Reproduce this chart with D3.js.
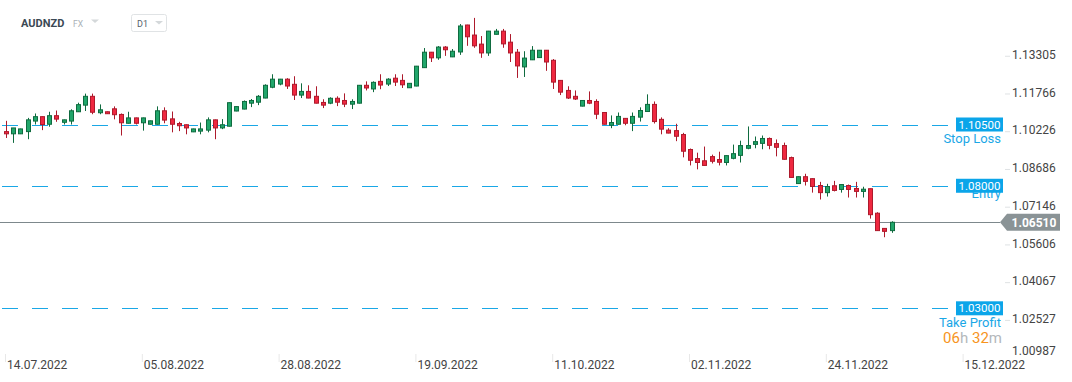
<!DOCTYPE html>
<html><head><meta charset="utf-8">
<script src="https://cdn.jsdelivr.net/npm/d3@7"></script>
<style>
body{margin:0;background:#fff;}
svg{display:block;font-family:Roboto,"Noto Sans",sans-serif;}
</style></head>
<body><svg id="c" width="1072" height="382"></svg>
<script>
// ---- data ----
const symbol = "AUDNZD";
const market = "FX";
const interval = "D1";
const tickIdx = [0,19,38,57,76,95,114,133];
const tickLabels = ["14.07.2022","05.08.2022","28.08.2022","19.09.2022","11.10.2022","02.11.2022","24.11.2022","15.12.2022"];
const priceTicks = [1.13305,1.11766,1.10226,1.08686,1.07146,1.05606,1.04067,1.02527,1.00987];
const levelValues = [1.105, 1.08, 1.03];
const levelNames = ["Stop Loss","Entry","Take Profit"];
const currentPrice = 1.0651;
const countdown = [["06","h"],["32","m"]];

const open = [1.1021,1.1012,1.1012,1.1021,1.1064,1.1082,1.1051,1.1086,1.1059,1.1064,
1.1102,1.1129,1.1165,1.1098,1.1102,1.1114,1.1091,1.1055,1.1077,1.1057,
1.1051,1.1051,1.1106,1.1073,1.1054,1.1049,1.1020,1.1023,1.1027,1.1069,
1.1036,1.1043,1.1105,1.1113,1.1137,1.1141,1.1158,1.1202,1.1215,1.1235,
1.1214,1.1170,1.1185,1.1165,1.1140,1.1137,1.1157,1.1148,1.1133,1.1137,
1.1210,1.1195,1.1226,1.1215,1.1239,1.1230,1.1200,1.1207,1.1282,1.1345,
1.1322,1.1366,1.1326,1.1346,1.1456,1.1415,1.1378,1.1342,1.1418,1.1431,
1.1386,1.1345,1.1285,1.1314,1.1323,1.1353,1.1312,1.1230,1.1189,1.1165,
1.1125,1.1148,1.1144,1.1099,1.1047,1.1051,1.1075,1.1055,1.1080,1.1103,
1.1132,1.1071,1.1027,1.1025,1.1009,1.0948,1.0911,1.0902,1.0919,1.0907,
1.0895,1.0912,1.0924,1.0953,1.0969,1.0973,1.0993,1.0972,1.0964,1.0915,
1.0809,1.0837,1.0829,1.0801,1.0772,1.0800,1.0785,1.0801,1.0789,1.0777,
1.0788,1.0688,1.0626,1.0617];
const close = [1.1012,1.1036,1.1032,1.1069,1.1082,1.1050,1.1086,1.1072,1.1069,1.1106,
1.1131,1.1165,1.1100,1.1110,1.1094,1.1090,1.1057,1.1077,1.1055,1.1077,
1.1065,1.1106,1.1068,1.1051,1.1045,1.1036,1.1032,1.1032,1.1069,1.1036,
1.1049,1.1139,1.1123,1.1144,1.1148,1.1165,1.1210,1.1235,1.1235,1.1207,
1.1170,1.1185,1.1158,1.1137,1.1129,1.1157,1.1141,1.1133,1.1144,1.1210,
1.1199,1.1222,1.1211,1.1235,1.1223,1.1212,1.1218,1.1288,1.1345,1.1322,
1.1366,1.1355,1.1349,1.1452,1.1408,1.1371,1.1342,1.1431,1.1431,1.1379,
1.1342,1.1289,1.1321,1.1353,1.1353,1.1305,1.1223,1.1182,1.1158,1.1154,
1.1148,1.1137,1.1092,1.1051,1.1058,1.1083,1.1055,1.1083,1.1107,1.1132,
1.1062,1.1031,1.1015,1.1002,1.0941,1.0904,1.0895,1.0883,1.0900,1.0896,
1.0923,1.0931,1.0964,1.0964,1.0980,1.0993,1.0965,1.0957,1.0908,1.0834,
1.0837,1.0818,1.0797,1.0772,1.0797,1.0781,1.0805,1.0785,1.0777,1.0786,
1.0682,1.0617,1.0614,1.0651];
const high = [1.1065,1.1036,1.1033,1.1077,1.1095,1.1083,1.1102,1.1107,1.1070,1.1112,
1.1139,1.1176,1.1176,1.1132,1.1103,1.1124,1.1095,1.1102,1.1078,1.1078,
1.1066,1.1124,1.1120,1.1103,1.1061,1.1050,1.1033,1.1058,1.1079,1.1070,
1.1072,1.1140,1.1124,1.1148,1.1154,1.1170,1.1214,1.1255,1.1236,1.1239,
1.1247,1.1218,1.1210,1.1206,1.1153,1.1161,1.1165,1.1177,1.1153,1.1211,
1.1226,1.1226,1.1255,1.1239,1.1255,1.1255,1.1219,1.1289,1.1362,1.1346,
1.1370,1.1370,1.1358,1.1460,1.1457,1.1485,1.1411,1.1432,1.1440,1.1440,
1.1419,1.1358,1.1349,1.1370,1.1354,1.1354,1.1317,1.1231,1.1206,1.1189,
1.1149,1.1185,1.1153,1.1100,1.1087,1.1099,1.1076,1.1099,1.1120,1.1173,
1.1144,1.1079,1.1035,1.1053,1.1016,1.0952,1.0935,1.0960,1.0927,1.0939,
1.0924,1.0968,1.0984,1.1042,1.1001,1.1005,1.0997,1.0989,1.0976,1.0919,
1.0838,1.0849,1.0830,1.0816,1.0808,1.0820,1.0806,1.0805,1.0816,1.0796,
1.0789,1.0692,1.0627,1.0655];
const low = [1.0995,1.0975,1.1011,1.0990,1.1050,1.1027,1.1041,1.1061,1.1050,1.1050,
1.1101,1.1105,1.1092,1.1092,1.1093,1.1071,1.1005,1.1054,1.1050,1.1025,
1.1050,1.1050,1.1055,1.1018,1.1023,1.1010,1.1019,1.1010,1.1018,1.0990,
1.1031,1.1042,1.1104,1.1112,1.1121,1.1129,1.1157,1.1198,1.1210,1.1195,
1.1150,1.1158,1.1157,1.1136,1.1117,1.1133,1.1125,1.1121,1.1113,1.1136,
1.1189,1.1182,1.1194,1.1207,1.1207,1.1199,1.1199,1.1206,1.1281,1.1305,
1.1314,1.1330,1.1325,1.1334,1.1371,1.1363,1.1322,1.1330,1.1417,1.1363,
1.1305,1.1240,1.1244,1.1313,1.1322,1.1269,1.1195,1.1170,1.1154,1.1150,
1.1124,1.1133,1.1072,1.1050,1.1035,1.1050,1.1047,1.1023,1.1062,1.1102,
1.1054,1.1010,1.1014,1.0982,1.0916,1.0883,1.0867,1.0882,1.0891,1.0883,
1.0883,1.0908,1.0895,1.0949,1.0953,1.0949,1.0949,1.0920,1.0907,1.0833,
1.0808,1.0801,1.0772,1.0744,1.0756,1.0777,1.0772,1.0752,1.0752,1.0752,
1.0666,1.0616,1.0590,1.0608];

// ---- chart ----
const svg = d3.select('#c');
const x = d3.scaleLinear().domain([0,123]).range([6,891.6]);
const y = d3.scaleLinear().domain([1.105,1.03]).range([124.5,308.3]);
const crisp = v => Math.round(v) + 0.5;

// header
const hdr = svg.append('g');
hdr.append('text').attr('x',21).attr('y',26.5).attr('font-size',11).attr('font-weight',700).attr('fill','#3b4954').text(symbol);
hdr.append('text').attr('x',73).attr('y',26.5).attr('font-size',8.5).attr('fill','#a9b1b6').text(market);
hdr.append('path').attr('d','M91,19.5 L99,19.5 L95,23 Z').attr('fill','#d4d8da');
hdr.append('rect').attr('x',131.5).attr('y',14.5).attr('width',35).attr('height',17).attr('rx',2).attr('fill','#fff').attr('stroke','#e0e3e5');
hdr.append('text').attr('x',137).attr('y',26.5).attr('font-size',9).attr('fill','#56626a').text(interval);
hdr.append('path').attr('d','M155,21 L163,21 L159,24.5 Z').attr('fill','#d4d8da');

// level dashed lines
const lv = svg.append('g');
levelValues.forEach(v => {
  lv.append('line').attr('x1',2).attr('x2',955).attr('y1',crisp(y(v))).attr('y2',crisp(y(v)))
    .attr('stroke','#1aa7e6').attr('stroke-width',1).attr('stroke-dasharray','16,14');
});
// current price line
svg.append('line').attr('x1',0).attr('x2',1000).attr('y1',crisp(y(currentPrice))).attr('y2',crisp(y(currentPrice)))
  .attr('stroke','#7d888c').attr('stroke-width',1);

// candles
const data = open.map((o,i)=>({i,o,h:high[i],l:low[i],c:close[i]}));
const cg = svg.append('g');
const up = d => d.c >= d.o;
cg.selectAll('line.w').data(data).join('line').attr('class','w')
  .attr('x1',d=>Math.round(x(d.i))+0.5).attr('x2',d=>Math.round(x(d.i))+0.5)
  .attr('y1',d=>y(d.h)).attr('y2',d=>y(d.l))
  .attr('stroke',d=>up(d)?'#0f6b3f':'#ad1a2c').attr('stroke-width',1);
cg.selectAll('rect.b').data(data).join('rect').attr('class','b')
  .attr('x',d=>Math.round(x(d.i))-1.5).attr('width',4)
  .attr('y',d=>y(Math.max(d.o,d.c))).attr('height',d=>Math.max(1,y(Math.min(d.o,d.c))-y(Math.max(d.o,d.c))))
  .attr('fill',d=>up(d)?'#21a66b':'#ef2840').attr('stroke',d=>up(d)?'#0f6b3f':'#ad1a2c').attr('stroke-width',1);

// level labels
const lab = svg.append('g');
levelValues.forEach((v,k) => {
  const yy = y(v);
  lab.append('text').attr('x',1001).attr('y',yy+(k===1?12:18.5)).attr('text-anchor','end')
    .attr('font-size',13).attr('fill','#1aa7e6').text(levelNames[k]);
  lab.append('rect').attr('x',956).attr('y',yy-7).attr('width',47).attr('height',14).attr('fill','#0ba5e9');
  lab.append('text').attr('x',979.5).attr('y',yy).attr('dy','0.36em').attr('text-anchor','middle')
    .attr('font-size',11.5).attr('fill','#fff').text(v.toFixed(5));
});
// countdown
const cd = lab.append('text').attr('x',1002).attr('y',342.5).attr('text-anchor','end').attr('font-size',15);
countdown.forEach(([n,u],k)=>{
  cd.append('tspan').attr('fill','#f7941d').text((k? ' ':'')+n);
  cd.append('tspan').attr('fill','#b3b8bb').text(u);
});

// y axis
const ya = svg.append('g').attr('transform','translate(1005,0)')
  .call(d3.axisRight(y).tickValues(priceTicks).tickSize(5).tickPadding(2).tickFormat(d3.format('.5f')));
ya.select('.domain').remove();
ya.selectAll('.tick line').attr('stroke','#dfe2e4');
ya.selectAll('.tick text').attr('fill','#444').attr('font-size',12).attr('font-family','Roboto,sans-serif').attr('dy','0.22em');
ya.selectAll('.tick').each(function(d){
  const p = y(d);
  if (p > 352) {
    d3.select(this).select('text').attr('y', 352 - p);
    d3.select(this).select('line').remove();
  }
});

// current price tag
const cy = y(currentPrice);
svg.append('path').attr('d',`M1000,${cy} L1007,${cy-8.5} L1060,${cy-8.5} L1060,${cy+8.5} L1007,${cy+8.5} Z`).attr('fill','#8a9396');
svg.append('text').attr('x',1034).attr('y',cy).attr('dy','0.36em').attr('text-anchor','middle')
  .attr('font-size',12).attr('font-weight',700).attr('fill','#fff').text(currentPrice.toFixed(5));

// x axis
const xa = svg.append('g').attr('transform','translate(0,0)')
  .call(d3.axisBottom(x).tickValues(tickIdx).tickSize(0).tickFormat((d,i)=>tickLabels[i]));
xa.select('.domain').remove();
xa.selectAll('.tick text').attr('text-anchor','start').attr('x',0.5).attr('y',360.5)
  .attr('fill','#444').attr('font-size',12).attr('font-family','Roboto,sans-serif');
xa.selectAll('.tick line').attr('x1',-1).attr('x2',-1).attr('y1',354).attr('y2',362).attr('stroke','#e8e8e8');
</script></body></html>
